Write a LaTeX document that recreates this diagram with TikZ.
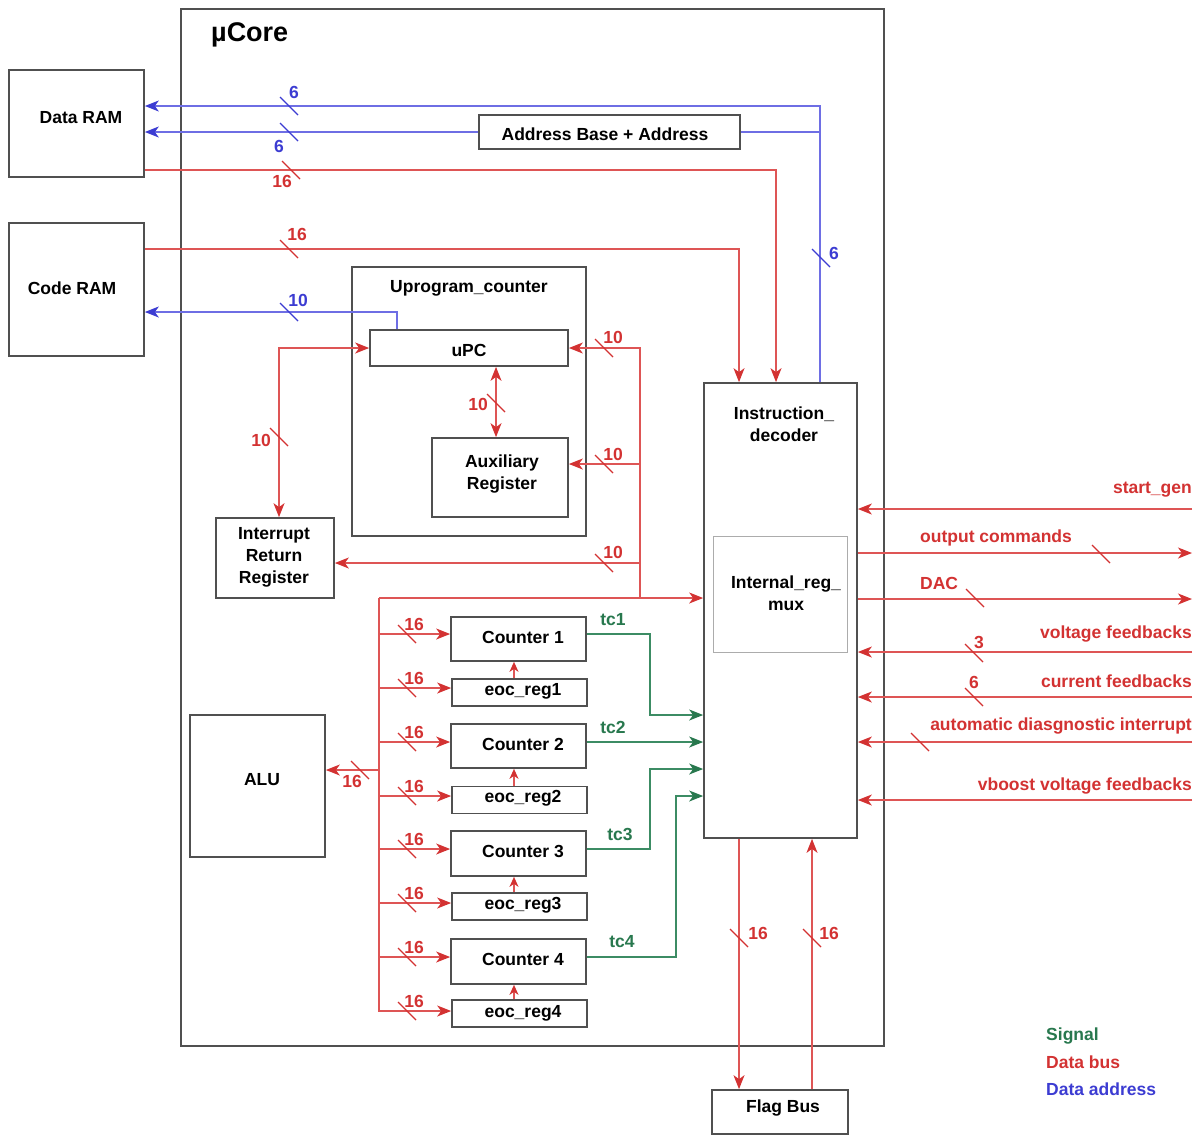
\documentclass[tikz,border=0pt]{standalone}
\usepackage{fontspec}
\setmainfont{Liberation Sans}
\usetikzlibrary{arrows.meta}
\definecolor{cred}{RGB}{211,50,50}
\definecolor{credl}{RGB}{222,85,85}
\definecolor{cblue}{RGB}{60,60,210}
\definecolor{cbluel}{RGB}{110,110,228}
\definecolor{cgreen}{RGB}{40,120,78}
\definecolor{cgreenl}{RGB}{60,140,100}
\definecolor{cbox}{RGB}{80,80,80}
\newcommand\busmark[3]{\draw[#1,line width=1.1pt] (#2,#3) ++(-9,-9) -- ++(18,18);}
\begin{document}
\begin{tikzpicture}[x=1pt,y=-1pt,
  font=\fontsize{17.5}{22}\selectfont\bfseries,
  blk/.style={draw=cbox,line width=1.7pt,inner sep=0pt,align=center},
  txt/.style={inner sep=0pt,align=center},
  rlab/.style={inner sep=0pt,text=cred},
  blab/.style={inner sep=0pt,text=cblue},
  glab/.style={inner sep=0pt,text=cgreen},
  rbus/.style={draw=credl,line width=1.4pt},
  bbus/.style={draw=cbluel,line width=1.4pt},
  gbus/.style={draw=cgreenl,line width=1.4pt},
  rarr/.style={rbus,-{Stealth[length=14pt,width=11pt,inset=4pt,color=cred]}},
  rarrs/.style={rbus,-{Stealth[length=10pt,width=9pt,inset=3pt,color=cred]}},
  rdarr/.style={rbus,{Stealth[length=14pt,width=11pt,inset=4pt,color=cred]}-{Stealth[length=14pt,width=11pt,inset=4pt,color=cred]}},
  barr/.style={bbus,-{Stealth[length=14pt,width=11pt,inset=4pt,color=cblue]}},
  garr/.style={gbus,-{Stealth[length=14pt,width=11pt,inset=4pt,color=cgreen]}}
]
\useasboundingbox (0,0) rectangle (1201,1135);
\fill[white] (0,0) rectangle (1201,1135);

% ---- blocks ----
\node[blk,minimum width=703pt,minimum height=1037pt] (core) at (532.5,527.5) {};
\node[txt,anchor=west,font=\fontsize{27}{30}\selectfont\bfseries] (title) at (211,35) {µCore};
\node[blk,minimum width=135pt,minimum height=107pt] (dram) at (76.5,123.5) {};
\node[txt] (dramt) at (81,118) {Data RAM};
\node[blk,minimum width=135pt,minimum height=133pt] (cram) at (76.5,289.5) {};
\node[txt] (cramt) at (72,288) {Code RAM};
\node[blk,minimum width=261pt,minimum height=34pt] (addr) at (609.5,132) {};
\node[txt] (addrt) at (605,134) {Address Base + Address};
\node[blk,minimum width=234pt,minimum height=269pt] (upcc) at (469,401.5) {};
\node[txt] (upcct) at (469,288) {Uprogram\_counter};
\node[blk,minimum width=198pt,minimum height=36pt] (upc) at (469,348) {};
\node[txt] (upct) at (469,350) {uPC};
\node[blk,minimum width=136pt,minimum height=79pt] (aux) at (500,477.5) {};
\node[txt] (auxt) at (502,474) {Auxiliary\\Register};
\node[blk,minimum width=118pt,minimum height=80pt] (irr) at (275,558) {};
\node[txt] (irrt) at (274,557) {Interrupt\\Return\\Register};
\node[blk,minimum width=153pt,minimum height=455pt] (dec) at (780.5,610.5) {};
\node[txt] (dect) at (784,424) {Instruction\_\\decoder};
\node[draw=gray!65,line width=1pt,minimum width=134pt,minimum height=116pt] (mux) at (780,594) {};
\node[txt] (muxt) at (786,593) {Internal\_reg\_\\mux};
\node[blk,minimum width=135pt,minimum height=44pt] (c1) at (518.5,639) {};
\node[txt] (c1t) at (523,637) {Counter 1};
\node[blk,minimum width=135pt,minimum height=27pt] (e1) at (519.5,692.5) {};
\node[txt] (e1t) at (523,691) {eoc\_reg1};
\node[blk,minimum width=135pt,minimum height=44pt] (c2) at (518.5,746) {};
\node[txt] (c2t) at (523,744) {Counter 2};
\node[blk,minimum width=135pt,minimum height=27pt] (e2) at (519.5,800) {};
\node[txt] (e2t) at (523,798) {eoc\_reg2};
\node[blk,minimum width=135pt,minimum height=45pt] (c3) at (518.5,853.5) {};
\node[txt] (c3t) at (523,851) {Counter 3};
\node[blk,minimum width=135pt,minimum height=27pt] (e3) at (519.5,906.5) {};
\node[txt] (e3t) at (523,905) {eoc\_reg3};
\node[blk,minimum width=135pt,minimum height=45pt] (c4) at (518.5,961.5) {};
\node[txt] (c4t) at (523,959) {Counter 4};
\node[blk,minimum width=135pt,minimum height=27pt] (e4) at (519.5,1013.5) {};
\node[txt] (e4t) at (523,1013) {eoc\_reg4};
\node[blk,minimum width=135pt,minimum height=142pt] (alu) at (257.5,786) {};
\node[txt] (alut) at (262,780) {ALU};
\node[blk,minimum width=136pt,minimum height=44pt] (flag) at (780,1112) {};
\node[txt] (flagt) at (783,1108) {Flag Bus};

% ---- address / data RAM connections ----
\draw[barr] (dec.north -| 820,0) |- (dram.east |- 0,106);
\draw[barr] (addr.west) -- (dram.east |- addr.west);
\draw[bbus] (addr.east) -- (addr.east -| 820,0);
\draw[rarr] (dram.east |- 0,170) -| (dec.north -| 776,0);
\draw[rarr] (cram.east |- 0,249) -| (dec.north -| 739,0);
\draw[barr] (upc.north -| 397,0) |- (cram.east |- 0,312);
\busmark{cblue}{289}{106}
\busmark{cblue}{289}{132}
\busmark{cred}{291}{170}
\busmark{cred}{289}{249}
\busmark{cblue}{289}{312}
\busmark{cblue}{821}{258}
\node[blab] (n6a) at (294,92) {6};
\node[blab] (n6b) at (279,146) {6};
\node[rlab] (n16a) at (282,181) {16};
\node[rlab] (n16b) at (297,234) {16};
\node[blab] (n10a) at (298,300) {10};
\node[blab] (n6c) at (834,253) {6};

% ---- micro program counter ----
\draw[rdarr] (upc.west) -| (irr.north -| 279,0);
\draw[rdarr] (upc.south -| 496,0) -- (aux.north -| 496,0);
\coordinate (j1) at (640,598);
\draw[rarr] (j1) |- (upc.east);
\draw[rarr] (j1 |- 0,464) -- (aux.east |- 0,464);
\draw[rarr] (j1 |- 0,563) -- (irr.east |- 0,563);
\busmark{cred}{279}{437}
\busmark{cred}{496}{403}
\busmark{cred}{604}{348}
\busmark{cred}{604}{464}
\busmark{cred}{604}{563}
\node[rlab] (n10b) at (261,440) {10};
\node[rlab] (n10c) at (478,404) {10};
\node[rlab] (n10d) at (613,337) {10};
\node[rlab] (n10e) at (613,454) {10};
\node[rlab] (n10f) at (613,552) {10};

% ---- main data bus ----
\coordinate (j0) at (379,598);
\draw[rarr] (j0) -- (dec.west |- j0);
\draw[rarr] (j0) |- (e4.west |- 0,1011);
\draw[rarr] (j0 |- 0,634) -- (c1.west |- 0,634);
\draw[rarr] (j0 |- 0,688) -- (e1.west |- 0,688);
\draw[rarr] (j0 |- 0,742) -- (c2.west |- 0,742);
\draw[rarr] (j0 |- 0,796) -- (e2.west |- 0,796);
\draw[rarr] (j0 |- 0,849) -- (c3.west |- 0,849);
\draw[rarr] (j0 |- 0,903) -- (e3.west |- 0,903);
\draw[rarr] (j0 |- 0,957) -- (c4.west |- 0,957);
\draw[rarr] (j0 |- 0,770) -- (alu.east |- 0,770);
\foreach \yy in {634,688,742,796,849,903,957,1011}{
  \busmark{cred}{407}{\yy}
  \node[rlab] at (414,\yy-10) {16};
}
\busmark{cred}{360}{770}
\node[rlab] (n16c) at (352,781) {16};

\draw[rarrs] (e1.north -| 514,0) -- (c1.south -| 514,0);
\draw[rarrs] (e2.north -| 514,0) -- (c2.south -| 514,0);
\draw[rarrs] (e3.north -| 514,0) -- (c3.south -| 514,0);
\draw[rarrs] (e4.north -| 514,0) -- (c4.south -| 514,0);

% ---- terminal count signals ----
\draw[garr] (c1.east |- 0,634) -| (650,715) -- (dec.west |- 0,715);
\draw[garr] (c2.east |- 0,742) -- (dec.west |- 0,742);
\draw[garr] (c3.east |- 0,849) -| (650,769) -- (dec.west |- 0,769);
\draw[garr] (c4.east |- 0,957) -| (676,796) -- (dec.west |- 0,796);
\node[glab] (tc1) at (613,620) {tc1};
\node[glab] (tc2) at (613,727) {tc2};
\node[glab] (tc3) at (620,834) {tc3};
\node[glab] (tc4) at (622,942) {tc4};

% ---- external I/O ----
\coordinate (r1) at (1192,509);
\coordinate (r2) at (1192,553);
\coordinate (r3) at (1192,599);
\coordinate (r4) at (1192,652);
\coordinate (r5) at (1192,697);
\coordinate (r6) at (1192,742);
\coordinate (r7) at (1192,800);
\draw[rarr] (r1) -- (dec.east |- r1);
\draw[rarr] (dec.east |- r2) -- (r2);
\draw[rarr] (dec.east |- r3) -- (r3);
\draw[rarr] (r4) -- (dec.east |- r4);
\draw[rarr] (r5) -- (dec.east |- r5);
\draw[rarr] (r6) -- (dec.east |- r6);
\draw[rarr] (r7) -- (dec.east |- r7);
\busmark{cred}{1101}{554}
\busmark{cred}{975}{598}
\busmark{cred}{974}{653}
\busmark{cred}{974}{697}
\busmark{cred}{920}{742}
\node[rlab,anchor=east] (l1) at (1192,490) {start\_gen};
\node[rlab,anchor=west] (l2) at (920,538) {output commands};
\node[rlab,anchor=west] (l3) at (920,583) {DAC};
\node[rlab,anchor=east] (l4) at (1192,634) {voltage feedbacks};
\node[rlab] (n3) at (979,642) {3};
\node[rlab,anchor=east] (l5) at (1192,681) {current feedbacks};
\node[rlab] (n6d) at (974,682) {6};
\node[rlab,anchor=east] (l6) at (1192,726) {automatic diasgnostic interrupt};
\node[rlab,anchor=east] (l7) at (1192,786) {vboost voltage feedbacks};

% ---- flag bus ----
\draw[rarr] (dec.south -| 739,0) -- (flag.north -| 739,0);
\draw[rarr] (flag.north -| 812,0) -- (dec.south -| 812,0);
\busmark{cred}{739}{938}
\busmark{cred}{812}{938}
\node[rlab] (n16d) at (758,933) {16};
\node[rlab] (n16e) at (829,933) {16};

% ---- legend ----
\node[glab,anchor=west] (lg1) at (1046,1036) {Signal};
\node[rlab,anchor=west] (lg2) at (1046,1062) {Data bus};
\node[blab,anchor=west] (lg3) at (1046,1089) {Data address};
\end{tikzpicture}
\end{document}
